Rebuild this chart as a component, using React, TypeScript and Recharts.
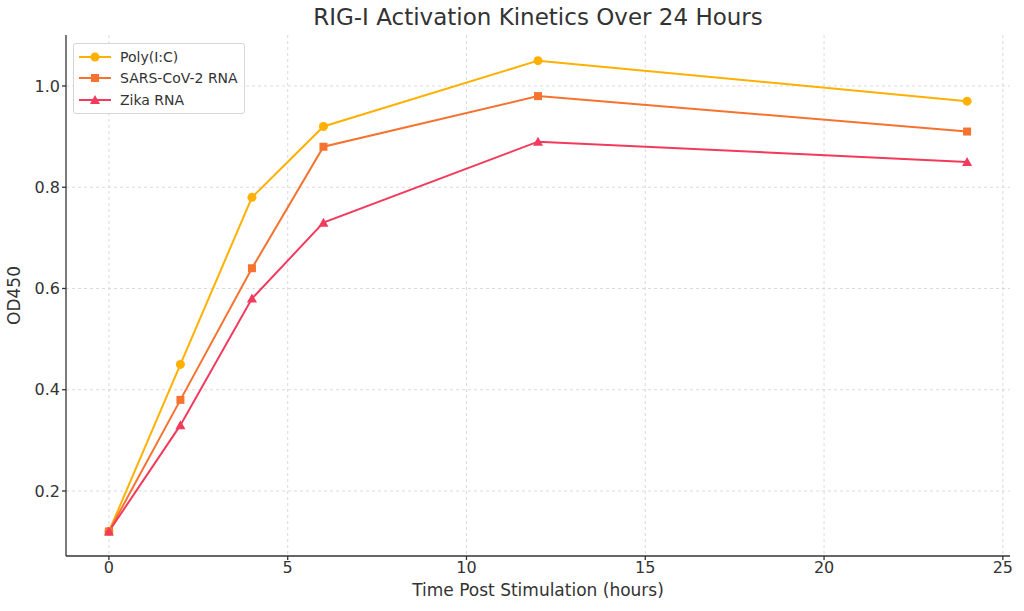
import React from 'react'
import { LineChart, Line, XAxis, YAxis, CartesianGrid } from 'recharts'

const hours = [0, 2, 4, 6, 12, 24]
const polyIC = [0.12, 0.45, 0.78, 0.92, 1.05, 0.97]
const sarsCoV2 = [0.12, 0.38, 0.64, 0.88, 0.98, 0.91]
const zika = [0.12, 0.33, 0.58, 0.73, 0.89, 0.85]
const xTicks = [0, 5, 10, 15, 20, 25]
const yTicks = [0.2, 0.4, 0.6, 0.8, 1.0]

const data = hours.map((h, i) => ({
  hour: h,
  poly: polyIC[i],
  sars: sarsCoV2[i],
  zika: zika[i],
}))

const FONT = '"DejaVu Sans", sans-serif'
const COLORS = { poly: '#ffb000', sars: '#f5732e', zika: '#f23a5c' }

type Shape = 'circle' | 'square' | 'triangle'

function marker(shape: Shape, color: string, cx: number, cy: number, key?: string | number) {
  if (shape === 'circle') return <circle key={key} cx={cx} cy={cy} r={4.5} fill={color} />
  if (shape === 'square') return <rect key={key} x={cx - 4} y={cy - 4} width={8} height={8} fill={color} />
  return <polygon key={key} points={`${cx},${cy - 5} ${cx + 5},${cy + 4} ${cx - 5},${cy + 4}`} fill={color} />
}

const makeDot = (shape: Shape, color: string) => (props: any) =>
  marker(shape, color, props.cx, props.cy, props.key ?? props.index)

const series: { key: 'poly' | 'sars' | 'zika'; name: string; shape: Shape }[] = [
  { key: 'poly', name: 'Poly(I:C)', shape: 'circle' },
  { key: 'sars', name: 'SARS-CoV-2 RNA', shape: 'square' },
  { key: 'zika', name: 'Zika RNA', shape: 'triangle' },
]

function LegendBox() {
  return (
    <div
      style={{
        position: 'absolute',
        left: 73,
        top: 43,
        border: '1px solid #d6d6d6',
        borderRadius: 3,
        background: 'rgba(255,255,255,0.85)',
        padding: '2px 6px 2px 4px',
        fontFamily: FONT,
        fontSize: 14,
        color: '#333',
      }}
    >
      {series.map(s => (
        <div key={s.key} style={{ display: 'flex', alignItems: 'center', height: 21.5 }}>
          <svg width={34} height={12} style={{ marginRight: 8 }}>
            <line x1={1} y1={6} x2={33} y2={6} stroke={COLORS[s.key]} strokeWidth={2} />
            {marker(s.shape, COLORS[s.key], 17, 6)}
          </svg>
          <span>{s.name}</span>
        </div>
      ))}
    </div>
  )
}

export default function App() {
  return (
    <div style={{ position: 'absolute', left: 0, top: 0, width: 1024, height: 611, background: '#fff' }}>
      <div
        style={{
          position: 'absolute',
          top: 4,
          left: 66,
          width: 944,
          textAlign: 'center',
          fontFamily: FONT,
          fontSize: 23,
          color: '#333',
        }}
      >
        RIG-I Activation Kinetics Over 24 Hours
      </div>
      <LineChart width={1024} height={611} data={data} margin={{ top: 35, right: 14, bottom: 25, left: 10 }}>
        <CartesianGrid
          stroke="#d0d0d0"
          strokeWidth={0.8}
          strokeDasharray="3 3"
          horizontalValues={yTicks}
          verticalValues={xTicks}
        />
        <XAxis
          dataKey="hour"
          type="number"
          domain={[-1.2, 25.2]}
          ticks={xTicks}
          allowDataOverflow
          height={30}
          tickSize={4}
          stroke="#333"
          strokeWidth={1.3}
          tick={{ fill: '#333', fontSize: 16, fontFamily: FONT }}
          label={{ value: 'Time Post Stimulation (hours)', position: 'insideBottom', offset: -10, fill: '#333', fontSize: 17, fontFamily: FONT }}
        />
        <YAxis
          type="number"
          domain={[0.0716, 1.1007]}
          ticks={yTicks}
          allowDataOverflow
          width={56}
          tickSize={4}
          stroke="#333"
          strokeWidth={1.3}
          tickFormatter={(v: number) => v.toFixed(1)}
          tick={{ fill: '#333', fontSize: 16, fontFamily: FONT }}
          label={{ value: 'OD450', angle: -90, position: 'insideLeft', offset: 4, fill: '#333', fontSize: 17, fontFamily: FONT, style: { textAnchor: 'middle' } }}
        />
        {series.map(s => (
          <Line
            key={s.key}
            dataKey={s.key}
            name={s.name}
            type="linear"
            stroke={COLORS[s.key]}
            strokeWidth={2}
            dot={makeDot(s.shape, COLORS[s.key])}
            activeDot={false}
            isAnimationActive={false}
          />
        ))}
      </LineChart>
      <LegendBox />
    </div>
  )
}
